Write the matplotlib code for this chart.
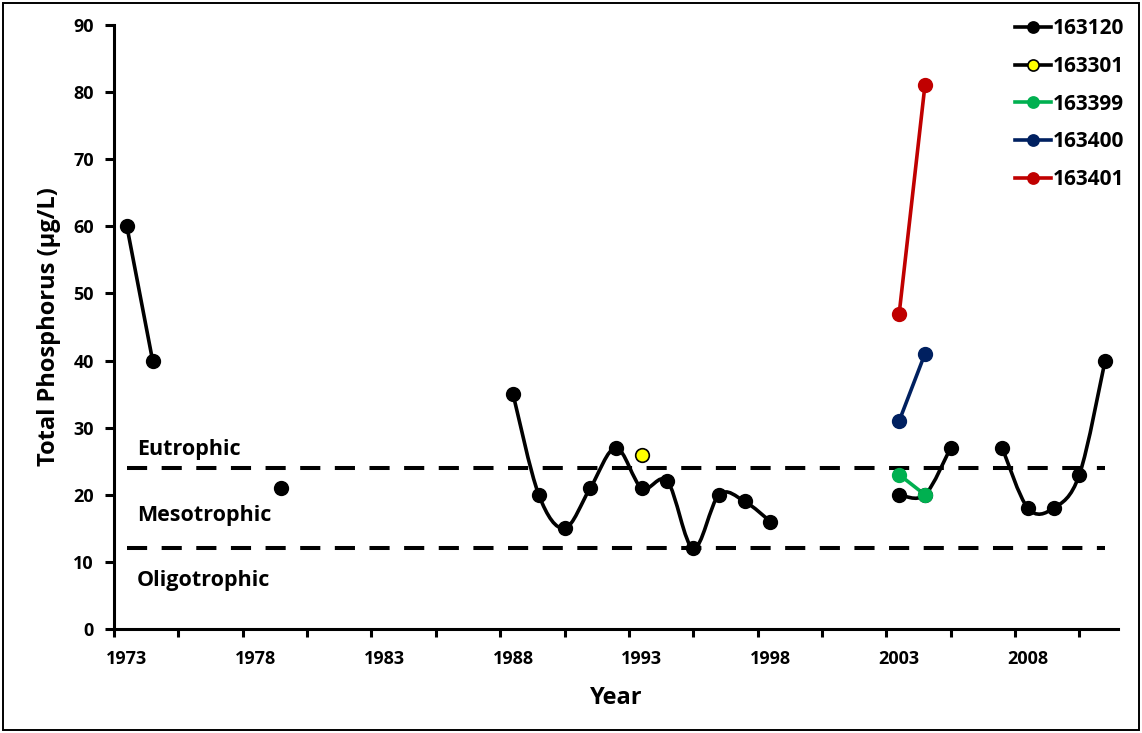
#!/usr/bin/env python3
"""
Total phosphorus by sampling station, 1973-2011, with trophic state bands.
"""

import numpy as np
import matplotlib
matplotlib.use("Agg")
import matplotlib.pyplot as plt
from matplotlib.lines import Line2D
from matplotlib.patches import PathPatch, Rectangle
from matplotlib.path import Path
from matplotlib.ticker import FixedLocator, MultipleLocator

plt.rcParams["font.family"] = ["Open Sans", "DejaVu Sans"]
plt.rcParams["font.weight"] = "bold"

# station 163120 (gaps split the line)
years_163120 = [1973, 1974, 1979,
                1988, 1989, 1990, 1991, 1992, 1993, 1994, 1995, 1996, 1997, 1998,
                2003, 2004, 2005,
                2007, 2008, 2009, 2010, 2011]
tp_163120 = [60, 40, 21,
             35, 20, 15, 21, 27, 21, 22, 12, 20, 19, 16,
             20, 20, 27,
             27, 18, 18, 23, 40]

years_163301 = [1993]
tp_163301 = [26]

years_163399 = [2003, 2004]
tp_163399 = [23, 20]

years_163400 = [2003, 2004]
tp_163400 = [31, 41]

years_163401 = [2003, 2004]
tp_163401 = [47, 81]

# trophic state boundaries (ug/L)
eutrophic_limit = 24
oligotrophic_limit = 12
band_labels = ["Eutrophic", "Mesotrophic", "Oligotrophic"]
band_label_y = [26.8, 16.9, 7.2]

year_ticks = [1973, 1978, 1983, 1988, 1993, 1998, 2003, 2008]

# samples (and year labels) sit at mid-year
MID = 0.5


def split_runs(years, values):
    runs = []
    cur_x, cur_y = [], []
    for yr, v in zip(years, values):
        if cur_x and yr - cur_x[-1] > 1:
            runs.append((cur_x, cur_y))
            cur_x, cur_y = [], []
        cur_x.append(yr)
        cur_y.append(v)
    if cur_x:
        runs.append((cur_x, cur_y))
    return runs


def smooth_path(xs, ys):
    """Cubic Bezier through the points, Catmull-Rom style control points."""
    pts = np.column_stack([xs, ys]).astype(float)
    verts = [pts[0]]
    codes = [Path.MOVETO]
    n = len(pts)
    for i in range(n - 1):
        p0 = pts[i - 1] if i > 0 else pts[i]
        p1 = pts[i]
        p2 = pts[i + 1]
        p3 = pts[i + 2] if i + 2 < n else pts[i + 1]
        c1 = p1 + (p2 - p0) / 6.0
        c2 = p2 - (p3 - p1) / 6.0
        verts += [c1, c2, p2]
        codes += [Path.CURVE4] * 3
    return Path(verts, codes)


def draw_station(ax, years, values, color, edge, smooth):
    for run_x, run_y in split_runs(years, values):
        xs = [y + MID for y in run_x]
        if len(xs) > 1:
            if smooth:
                ax.add_patch(PathPatch(smooth_path(xs, run_y), fill=False,
                                       edgecolor=color, lw=2.6, zorder=3,
                                       capstyle="round", joinstyle="round"))
            else:
                ax.plot(xs, run_y, color=color, lw=2.6, zorder=3,
                        solid_capstyle="round")
        ax.plot(xs, run_y, ls="none", marker="o", ms=9.8, mfc=color,
                mec=edge, mew=1.2, zorder=4)


def main():
    fig = plt.figure(figsize=(11.42, 7.33), dpi=100)
    ax = fig.add_axes([114 / 1142, 1 - 629 / 733, 1004 / 1142, 604 / 733])

    x_start = years_163120[0] + MID
    x_end = years_163120[-1] + MID
    for level in (eutrophic_limit, oligotrophic_limit):
        ax.plot([x_start, x_end], [level, level], color="black", lw=2.9,
                ls=(0, (5.0, 3.6)), dash_capstyle="butt", zorder=2)

    for label, y in zip(band_labels, band_label_y):
        ax.text(1973.9, y, label, fontsize=15.5, fontweight="bold",
                va="center", ha="left")

    stations = [
        ("163120", years_163120, tp_163120, "black", "black", True),
        ("163301", years_163301, tp_163301, "#ffff00", "black", False),
        ("163399", years_163399, tp_163399, "#00b050", "#00b050", False),
        ("163400", years_163400, tp_163400, "#002060", "#002060", False),
        ("163401", years_163401, tp_163401, "#c00000", "#c00000", False),
    ]
    handles = []
    for name, yrs, vals, color, edge, smooth in stations:
        draw_station(ax, yrs, vals, color, edge, smooth)
        line_color = "black" if name == "163301" else color
        handles.append(Line2D([], [], color=line_color, lw=2.6, marker="o",
                              ms=8, mfc=color, mec=edge, mew=1.2, label=name))

    ax.set_xlim(1973, 2012)
    ax.set_ylim(0, 90)
    # tick marks every 2.5 years; year labels centred on mid-year
    ax.xaxis.set_major_locator(FixedLocator([t + MID for t in year_ticks]))
    ax.set_xticklabels([str(t) for t in year_ticks])
    ax.xaxis.set_minor_locator(FixedLocator(
        [t for t in year_ticks] + [t + 2.5 for t in year_ticks]))
    ax.yaxis.set_major_locator(MultipleLocator(10))

    for side in ("top", "right"):
        ax.spines[side].set_visible(False)
    for side in ("left", "bottom"):
        ax.spines[side].set_linewidth(2.2)

    ax.tick_params(axis="both", which="both", direction="out", width=2.2,
                   labelsize=13)
    ax.tick_params(axis="y", length=6.5, pad=8)
    ax.tick_params(axis="x", which="major", length=0, pad=15)
    ax.tick_params(axis="x", which="minor", length=5.5)

    ax.set_xlabel("Year", fontsize=17, fontweight="bold", labelpad=13)
    ax.set_ylabel("Total Phosphorus (µg/L)", fontsize=17, fontweight="bold",
                  labelpad=9)

    ax.legend(handles=handles, loc="upper right", frameon=False,
              bbox_to_anchor=(1135 / 1142, 1 - 8 / 733),
              bbox_transform=fig.transFigure, borderpad=0, handlelength=1.75,
              handletextpad=0.1, labelspacing=0.8, numpoints=1,
              prop={"weight": "bold", "size": 15})

    fig.patches.append(Rectangle((3 / 1142, 3 / 733), 1136 / 1142, 727 / 733,
                                 transform=fig.transFigure, fill=False,
                                 edgecolor="black", lw=1.4))

    fig.savefig("out.png", dpi=100)


if __name__ == "__main__":
    main()
